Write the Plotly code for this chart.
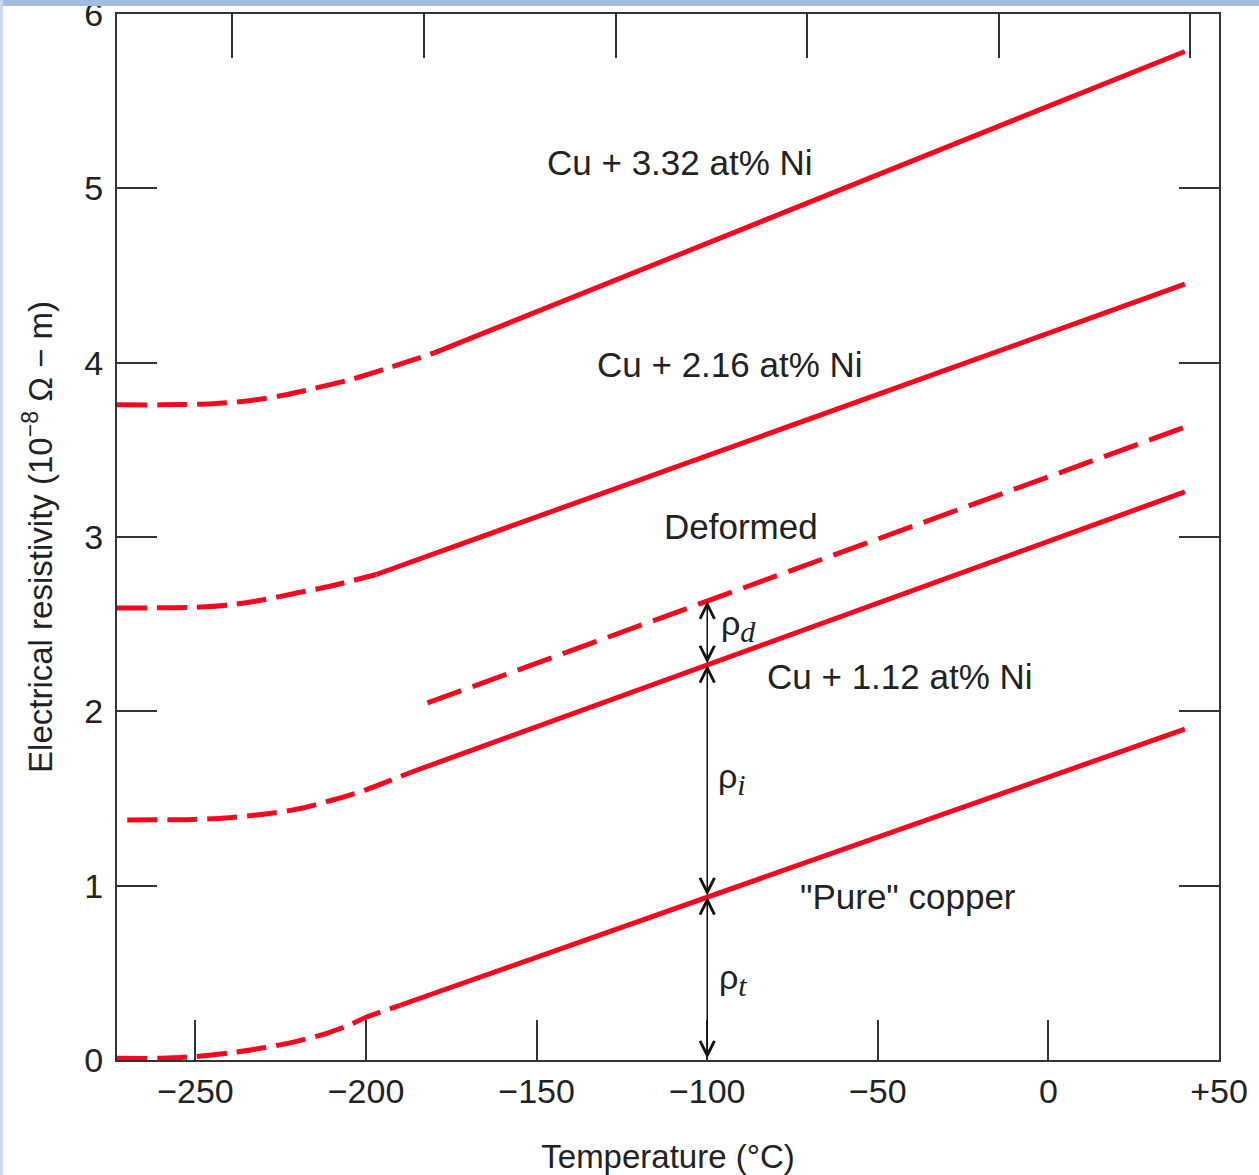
import plotly.graph_objects as go

# ---------------- data ----------------
# "Pure" copper
pure_dash_T = [-273, -260, -250, -240, -230, -222, -212, -205, -200, -190]
pure_dash_rho = [0.01, 0.01, 0.02, 0.04, 0.07, 0.10, 0.15, 0.20, 0.245, 0.314]
pure_solid_T = [-190, 40]
pure_solid_rho = [0.314, 1.898]

# Cu + 1.12 at% Ni
ni112_dash_T = [-270, -250, -240, -230, -220, -210, -200, -187]
ni112_dash_rho = [1.377, 1.38, 1.39, 1.41, 1.44, 1.49, 1.55, 1.649]
ni112_solid_T = [-187, 40]
ni112_solid_rho = [1.649, 3.259]

# Deformed (Cu + 1.12 at% Ni, deformed)
deformed_T = [-182, 40]
deformed_rho = [2.048, 3.63]

# Cu + 2.16 at% Ni
ni216_dash_T = [-273, -250, -240, -230, -220, -210, -197]
ni216_dash_rho = [2.593, 2.597, 2.61, 2.64, 2.68, 2.72, 2.785]
ni216_solid_T = [-197, 40]
ni216_solid_rho = [2.785, 4.45]

# Cu + 3.32 at% Ni
ni332_dash_T = [-273, -260, -245, -235, -225, -217, -205, -195, -180]
ni332_dash_rho = [3.758, 3.758, 3.765, 3.78, 3.81, 3.844, 3.90, 3.96, 4.056]
ni332_solid_T = [-180, 40]
ni332_solid_rho = [4.056, 5.785]

# decomposition arrows at -100 C: 0, pure Cu, Cu+1.12 Ni, deformed
arrow_T = -100
arrow_levels = [0, 0.935, 2.266, 2.632]

# tick labels
x_tickvals = [-250, -200, -150, -100, -50, 0, 50]
x_ticktext = ["\u2212250", "\u2212200", "\u2212150", "\u2212100", "\u221250", "0", "+50"]
x_top_ticks = [-239.3, -183.1, -126.6, -70.7, -14.5, 41.4]
y_tickvals = [0, 1, 2, 3, 4, 5, 6]
y_ticktext = ["0", "1", "2", "3", "4", "5", "6"]

# curve labels
label_text = ["Cu + 3.32 at% Ni", "Cu + 2.16 at% Ni", "Deformed",
              "Cu + 1.12 at% Ni", "\"Pure\" copper"]
label_T = [-108, -93.4, -90.2, -43.6, -41.3]
label_rho = [5.146, 3.99, 3.06, 2.20, 0.94]

rho_labels = ["d", "i", "t"]
rho_label_T = [-96.5, -97.5, -97.0]
rho_label_rho = [2.49, 1.61, 0.46]

# ---------------- styles ----------------
RED = "#f5081f"
LW = 5
DASH = "30px,10px"
DASH_DEF = "36px,12px"
FONT = "Liberation Sans, Arial, Helvetica, sans-serif"
TXT = "#222222"
AX = "#333333"

fig = go.Figure()

def add_line(T, r, dash=None, spline=False):
    fig.add_trace(go.Scatter(
        x=T, y=r, mode="lines", showlegend=False, hoverinfo="skip",
        line=dict(color=RED, width=LW, dash=dash if dash else "solid",
                  shape="spline" if spline else "linear", smoothing=0.8)))

add_line(pure_dash_T, pure_dash_rho, DASH, True)
add_line(pure_solid_T, pure_solid_rho)
add_line(ni112_dash_T, ni112_dash_rho, DASH, True)
add_line(ni112_solid_T, ni112_solid_rho)
add_line(deformed_T, deformed_rho, DASH_DEF)
add_line(ni216_dash_T, ni216_dash_rho, DASH, True)
add_line(ni216_solid_T, ni216_solid_rho)
add_line(ni332_dash_T, ni332_dash_rho, DASH, True)
add_line(ni332_solid_T, ni332_solid_rho)

# invisible trace to activate top axis
fig.add_trace(go.Scatter(x=x_top_ticks, y=[None] * len(x_top_ticks),
                         xaxis="x2", mode="lines", showlegend=False,
                         hoverinfo="skip"))

# arrows
for lo, hi in zip(arrow_levels[:-1], arrow_levels[1:]):
    fig.add_annotation(x=arrow_T, y=hi, ax=arrow_T, ay=lo, xref="x", yref="y",
                       axref="x", ayref="y", text="", showarrow=True,
                       arrowside="end+start", arrowhead=5, startarrowhead=5,
                       arrowsize=1.9, startarrowsize=1.9, arrowwidth=1.5,
                       arrowcolor="#111111", standoff=0, startstandoff=0)

for t, x, y in zip(label_text, label_T, label_rho):
    fig.add_annotation(x=x, y=y, text=t, showarrow=False, xref="x", yref="y",
                       font=dict(family=FONT, size=35, color=TXT))

for s, x, y in zip(rho_labels, rho_label_T, rho_label_rho):
    fig.add_annotation(
        x=x, y=y, xanchor="left", showarrow=False, xref="x", yref="y",
        text="\u03c1<sub><i><span style='font-family:Liberation Serif;font-size:30px'>"
             + s + "</span></i></sub>",
        font=dict(family=FONT, size=34, color=TXT))

# decorative frame strips
fig.add_shape(type="rect", xref="paper", yref="paper", x0=-0.2, x1=1.2,
              y0=1 + 8 / 1046, y1=1 + 20 / 1046, fillcolor="#a3bce3",
              line=dict(width=0), layer="above")
fig.add_shape(type="rect", xref="paper", yref="paper", x0=-120 / 1102, x1=-114 / 1102,
              y0=-0.2, y1=1.2, fillcolor="#c8d8f0", line=dict(width=0), layer="above")

fig.update_layout(
    width=1259, height=1175,
    margin=dict(l=117, r=40, t=14, b=115, autoexpand=False),
    paper_bgcolor="white", plot_bgcolor="white",
    font=dict(family=FONT, color=TXT),
    xaxis=dict(range=[-273, 50], tickvals=x_tickvals, ticktext=x_ticktext,
               automargin=False,
               ticks="inside", ticklen=40, tickwidth=2, tickcolor=AX,
               showline=True, linewidth=2, linecolor=AX, mirror=True,
               showgrid=False, zeroline=False, ticklabelstandoff=0,
               ticklabeloverflow="allow",
               tickfont=dict(family=FONT, size=34, color=TXT),
               title=dict(text="Temperature (\u00b0C)", standoff=37,
                          font=dict(family=FONT, size=33, color=TXT))),
    xaxis2=dict(range=[-273, 50], overlaying="x", side="top", automargin=False,
                tickvals=x_top_ticks, ticks="inside", ticklen=44, tickwidth=2,
                tickcolor=AX, showticklabels=False, showline=False,
                showgrid=False, zeroline=False),
    yaxis=dict(range=[0, 6], tickvals=y_tickvals, ticktext=y_ticktext,
               automargin=False,
               ticks="inside", ticklen=40, tickwidth=2, tickcolor=AX,
               showline=True, linewidth=2, linecolor=AX, mirror="ticks",
               showgrid=False, zeroline=False, ticklabelstandoff=5,
               ticklabeloverflow="allow",
               tickfont=dict(family=FONT, size=34, color=TXT),
               title=dict(text="Electrical resistivity (10<sup>\u22128</sup> \u03a9 \u2212 m)",
                          standoff=22, font=dict(family=FONT, size=33, color=TXT))),
)

fig.write_html("out.html", config={"displayModeBar": False},
               post_script="document.body.style.margin='0px';document.body.style.overflow='hidden';")
